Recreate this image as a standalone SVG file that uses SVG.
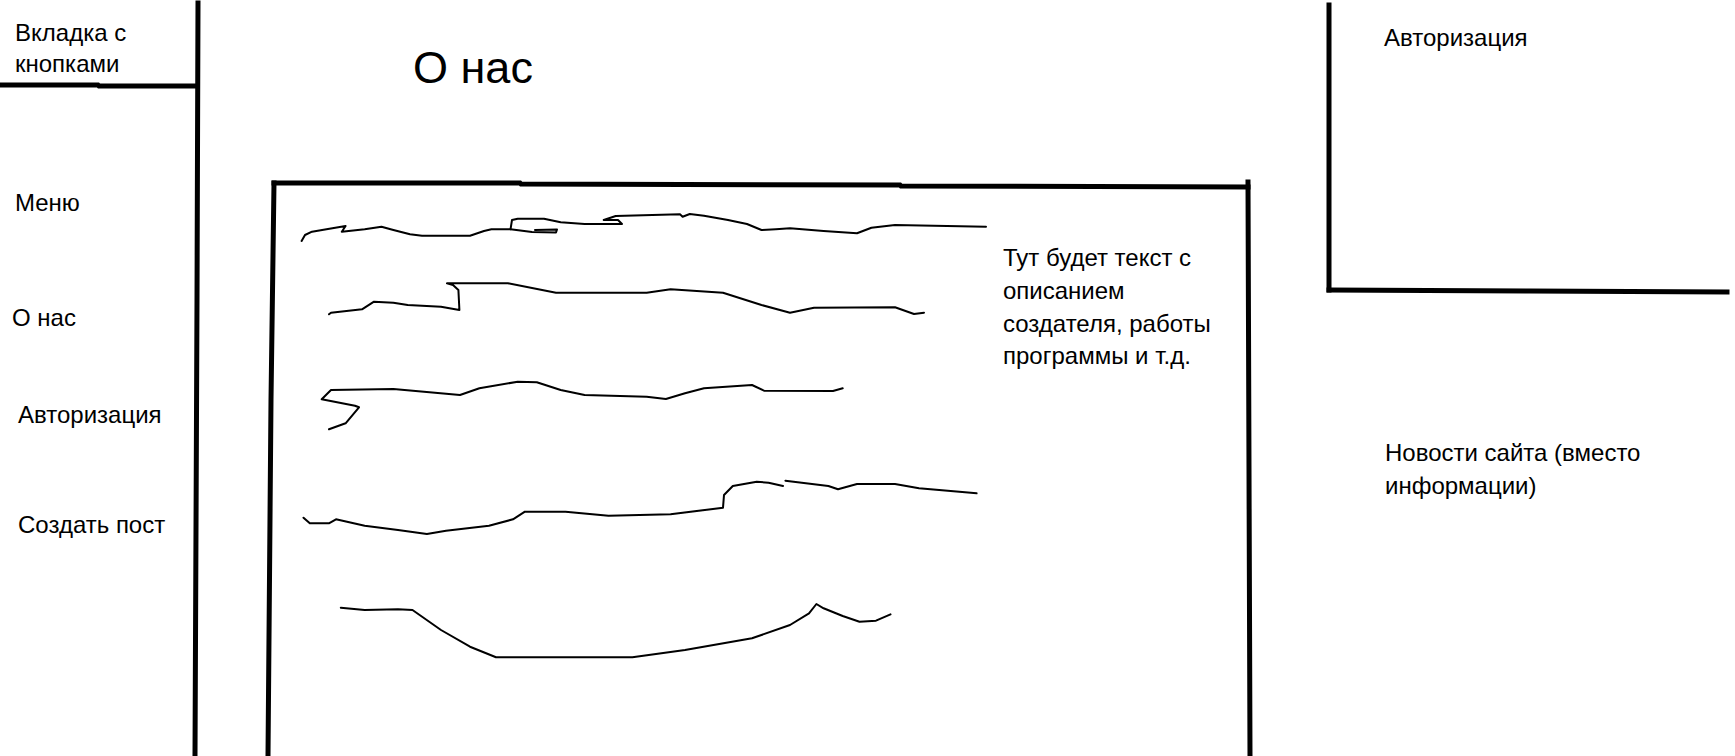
<svg xmlns="http://www.w3.org/2000/svg" width="1735" height="756" viewBox="0 0 1735 756">
<style>
.bg{fill:#ffffff}
.thick{fill:none;stroke:#000;stroke-width:5;stroke-linecap:square;stroke-linejoin:miter}
.scr{fill:none;stroke:#000;stroke-width:2;stroke-linecap:round;stroke-linejoin:round}
.t{font-family:"Liberation Sans",Arial,sans-serif;font-size:24px;fill:#000}
.title{font-family:"Liberation Sans",Arial,sans-serif;font-size:45px;fill:#000}
</style>
<rect class="bg" x="0" y="0" width="1735" height="756"/>
<g id="frame-lines">
<polyline class="thick" points="198,3 197,300 195,756"/>
<polyline class="thick" points="0,85 98,85 99,86 197,86"/>
<polyline class="thick" points="274,183 520,183 521,184 900,185 901,186 1248,187"/>
<polyline class="thick" points="274,183 271,400 268,756"/>
<polyline class="thick" points="1248,182 1249,470 1250,756"/>
<polyline class="thick" points="1329,5 1329,290"/>
<polyline class="thick" points="1329,290 1530,291 1727,292"/>
</g>
<g id="scribbles">
<polyline class="scr" points="301.6,241 305,235 312,231.7 326.5,229.3 345.6,226 341.8,231.7 364.7,229.3 381.5,226.7 393.4,230 410,234.3 422,235.7 470,235.7 484,231 491.4,229.3 510.5,229.3 512,220 517.7,218.7 544,218.7 560.7,222.3 584.6,224 622,224 618,220 603.7,220 615.7,216 680,214.3 682.6,216.7 689.8,214 704,215.7 728,220 747,224 761.5,230 775.8,229.3 790,228.3 823.6,231 857,233.3 871.4,227.7 895,225 986,226.7"/>
<polyline class="scr" points="510.5,229.3 532,232 556,232.5 557,229.5 535,230"/>
<polyline class="scr" points="329,314.3 331,312.7 362,309.3 374,301.7 393.4,302.7 407.7,305 441,306.7 459.4,310 458.4,290 453,285 447,283.3 508,283.3 556,292.7 646.7,292.7 670.6,289.3 723,292.7 761.5,305 790,312.7 814,307.7 895,307.3 914,314 924,312.7"/>
<polyline class="scr" points="329,429.3 345.6,423.3 359,407.3 355,405.7 321.7,399.3 331,390 393.4,389 460,395 479.4,388.3 517.7,381.7 536.8,382.3 560.7,390 584.6,395 646.7,396.7 665.9,399 685,393.3 704,388.3 752,385 764,390.7 833,391 842.7,388.3"/>
<polyline class="scr" points="303.5,517.7 309.8,523.3 328.9,523.3 336,519.3 364.7,525.7 398,530 426.9,534 446,530.7 489,525.7 513,519.3 524.9,511.7 565.5,511.7 608.5,515.7 670.6,514.3 723,507.7 724,495 732.8,486 756.7,481.7 768.6,482.7 783,486"/>
<polyline class="scr" points="785.4,480.7 828.4,486 838,489.3 857,484 895,484 919,488.3 976.6,493.3"/>
<polyline class="scr" points="340.8,607.7 364.7,610 398,609.3 412.5,610 441,630 470,646.7 496,657.3 632.4,657.3 685,650 752,638.3 790,625 809,613.3 816.4,604 823.6,608.3 842.7,616 859.5,621.7 876,620.7 890.5,614.3"/>
</g>
<g id="tab-label"><text class="t" x="15" y="41">Вкладка с</text><text class="t" x="15" y="72">кнопками</text></g>
<g id="page-title"><text class="title" x="413" y="83">О нас</text></g>
<g id="menu-label"><text class="t" x="15" y="211">Меню</text></g>
<g id="menu-about"><text class="t" x="12" y="326">О нас</text></g>
<g id="menu-auth"><text class="t" x="18" y="423">Авторизация</text></g>
<g id="menu-post"><text class="t" x="18" y="533">Создать пост</text></g>
<g id="content-note"><text class="t" x="1003" y="266">Тут будет текст с</text><text class="t" x="1003" y="298.5">описанием</text><text class="t" x="1003" y="331.5">создателя, работы</text><text class="t" x="1003" y="364">программы и т.д.</text></g>
<g id="auth-panel"><text class="t" x="1384" y="46">Авторизация</text></g>
<g id="news-panel"><text class="t" x="1385" y="461">Новости сайта (вместо</text><text class="t" x="1385" y="493.5">информации)</text></g>
</svg>
